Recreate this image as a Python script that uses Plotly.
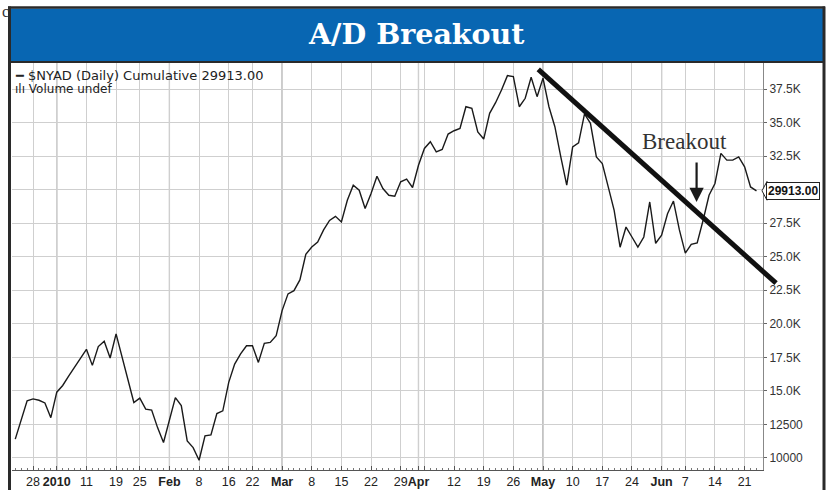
import pandas as pd
import plotly.graph_objects as go

# ---------------- data ----------------
holidays = ["2009-12-25", "2010-01-01", "2010-01-18", "2010-02-15", "2010-04-02", "2010-05-31"]
trading_days = [d for d in pd.bdate_range("2009-12-22", "2010-06-23").strftime("%Y-%m-%d") if d not in holidays]

nyad_values = [
    # Dec 22 - Dec 31
    11400, 12900, 14250, 14400, 14300, 14100, 13000,
    # Jan
    14900, 15400, 16100, 16800, 17450, 18100, 16900, 18300, 18700, 17450,
    19250, 17600, 15900, 14130, 14460, 13640, 13570, 12260, 11150,
    # Feb
    12800, 14500, 13900, 11270, 10770, 9830, 11640, 11720, 13310, 13510,
    15630, 17000, 17750, 18360, 18360, 17120, 18540, 18610, 19110,
    # Mar
    20980, 22230, 22470, 23270, 25170, 25720, 26090, 27000, 27700, 28010,
    27590, 29210, 30330, 29960, 28590, 29710, 31000, 30080, 29580, 29510,
    30580, 30780, 30160,
    # Apr
    31820, 33070, 33570, 32820, 33000, 34140, 34390, 34560, 36180, 36060,
    34310, 33770, 35690, 36480, 37430, 38500, 38430, 36180, 36810, 38380, 36930,
    # May
    38310, 36180, 34690, 32440, 30330, 33190, 33490, 35640, 34940, 32440,
    31950, 30200, 28460, 25710, 27210, 26470, 25710, 26470, 29080, 26000,
    # Jun
    26600, 28200, 29150, 27000, 25270, 25920, 26020, 27720, 29580, 30460,
    32700, 32200, 32200, 32440, 31700, 30200, 29913,
]

tick_dates = ["2009-12-28", "2010-01-04", "2010-01-11", "2010-01-19", "2010-01-25",
              "2010-02-01", "2010-02-08", "2010-02-16", "2010-02-22",
              "2010-03-01", "2010-03-08", "2010-03-15", "2010-03-22", "2010-03-29",
              "2010-04-01", "2010-04-05", "2010-04-12", "2010-04-19", "2010-04-26",
              "2010-05-03", "2010-05-10", "2010-05-17", "2010-05-24",
              "2010-06-01", "2010-06-07", "2010-06-14", "2010-06-21"]
tick_labels = ["28", "<b>2010</b>", "11", "19", "25",
               "<b>Feb</b>", "8", "16", "22",
               "<b>Mar</b>", "8", "15", "22", "29",
               "<b>Apr</b>", "", "12", "19", "26",
               "<b>May</b>", "10", "17", "24",
               "<b>Jun</b>", "7", "14", "21"]
month_dates = ["2010-01-04", "2010-02-01", "2010-03-01", "2010-04-01", "2010-05-03", "2010-06-01"]

y_tick_values = [10000, 12500, 15000, 17500, 20000, 22500, 25000, 27500, 30000, 32500, 35000, 37500]
# 30.0K sits under the last-value tag in the original
y_tick_labels = ["10000", "12500", "15.0K", "17.5K", "20.0K", "22.5K", "25.0K", "27.5K",
                 "", "32.5K", "35.0K", "37.5K"]

last_value = 29913.00
# trend line (drawn annotation): position in trading-day index / value
trend_x = [85.2, 125.3]
trend_y = [38970, 23025]
breakout_x = 111.9
breakout_y = 29080
breakout_text_x = 109.9
breakout_text_y = 33600

# ---------------- figure ----------------
origin = trading_days.index("2009-12-28")
xs = [i - origin for i in range(len(trading_days))]
tickvals = [trading_days.index(d) - origin for d in tick_dates]
monthvals = [trading_days.index(d) - origin for d in month_dates]

X_RANGE = [-3.55, 123.1]
Y_RANGE = [9100, 39440]

W, H = 832, 490
ML, MR, MT, MB = 12, 69, 63, 20
PW, PH = W - ML - MR, H - MT - MB


def px_x(p):
    return (p - ML) / PW


def px_y(p):
    return (H - MB - p) / PH


def data_to_paper_x(v):
    return (v - X_RANGE[0]) / (X_RANGE[1] - X_RANGE[0])


def data_to_paper_y(v):
    return (v - Y_RANGE[0]) / (Y_RANGE[1] - Y_RANGE[0])


fig = go.Figure()
fig.add_trace(go.Scatter(
    x=xs, y=nyad_values, mode="lines",
    line=dict(color="#1a1a1a", width=1.4),
    customdata=trading_days, hovertemplate="%{customdata}: %{y}<extra></extra>",
    showlegend=False,
))

shapes = []
# darker month separator gridlines
for mv in monthvals:
    shapes.append(dict(type="line", xref="x", yref="paper", x0=mv, x1=mv, y0=0, y1=1,
                       line=dict(color="#9a9a9a", width=1.2), layer="below"))
# trend line (not clipped: paper coords)
shapes.append(dict(type="line", xref="paper", yref="paper",
                   x0=data_to_paper_x(trend_x[0]), y0=data_to_paper_y(trend_y[0]),
                   x1=data_to_paper_x(trend_x[1]), y1=data_to_paper_y(trend_y[1]),
                   line=dict(color="#111111", width=5)))
# title bar
shapes.append(dict(type="rect", xref="paper", yref="paper",
                   x0=px_x(10), x1=px_x(823), y0=px_y(61.5), y1=px_y(8.5),
                   fillcolor="#0866B2", line=dict(width=0)))
shapes.append(dict(type="line", xref="paper", yref="paper",
                   x0=px_x(10), x1=px_x(823), y0=px_y(62), y1=px_y(62),
                   line=dict(color="#2a2a2a", width=2)))
shapes.append(dict(type="line", xref="paper", yref="paper",
                   x0=px_x(8), x1=px_x(825), y0=px_y(7.5), y1=px_y(7.5),
                   line=dict(color="#2a2a2a", width=2.5)))
# frame borders
shapes.append(dict(type="line", xref="paper", yref="paper",
                   x0=px_x(9.5), x1=px_x(9.5), y0=px_y(490), y1=px_y(6.5),
                   line=dict(color="#2a2a2a", width=3)))
shapes.append(dict(type="line", xref="paper", yref="paper",
                   x0=px_x(824), x1=px_x(824), y0=px_y(490), y1=px_y(6.5),
                   line=dict(color="#2a2a2a", width=3)))
# small notch of the last-value tag
shapes.append(dict(type="path", xref="paper", yref="y",
                   path="M %f,%f L %f,%f L %f,%f Z" % (
                       px_x(767), last_value + 700,
                       px_x(762), last_value,
                       px_x(767), last_value - 700),
                   fillcolor="white", line=dict(color="#222", width=1)))

annotations = [
    dict(text="<b>A/D Breakout</b>", xref="paper", yref="paper",
         x=px_x(416), y=px_y(34), xanchor="center", yanchor="middle", showarrow=False,
         font=dict(family="DejaVu Serif, Liberation Serif, serif", size=28.5, color="white")),
    dict(text="━ $NYAD (Daily) Cumulative 29913.00", xref="paper", yref="paper",
         x=px_x(13), y=px_y(75), xanchor="left", yanchor="middle", showarrow=False,
         font=dict(family="DejaVu Sans, sans-serif", size=13, color="#222")),
    dict(text="ılı Volume undef", xref="paper", yref="paper",
         x=px_x(13), y=px_y(89), xanchor="left", yanchor="middle", showarrow=False,
         font=dict(family="DejaVu Sans, sans-serif", size=12, color="#222")),
    dict(text="Breakout", xref="x", yref="y", x=breakout_text_x, y=breakout_text_y,
         xanchor="center", yanchor="middle", showarrow=False,
         font=dict(family="Liberation Serif, DejaVu Serif, serif", size=23, color="#333")),
    dict(text="", xref="x", yref="y", x=breakout_x, y=breakout_y, ax=0, ay=-41,
         showarrow=True, arrowhead=2, arrowsize=1.3, arrowwidth=2.2, arrowcolor="#1a1a1a"),
    dict(text="<b>%.2f</b>" % last_value, xref="paper", yref="y", x=px_x(766), y=last_value,
         xanchor="left", yanchor="middle", showarrow=False, bgcolor="white",
         bordercolor="#222", borderwidth=1, borderpad=1,
         font=dict(family="Liberation Sans, Arial, sans-serif", size=12, color="#111")),
    dict(text="c", xref="paper", yref="paper", x=px_x(0), y=px_y(12),
         xanchor="left", yanchor="middle", showarrow=False,
         font=dict(family="Liberation Serif, serif", size=16, color="#333")),
]

fig.update_layout(
    width=W, height=H,
    margin=dict(l=ML, r=MR, t=MT, b=MB, pad=0, autoexpand=False),
    paper_bgcolor="white", plot_bgcolor="white",
    shapes=shapes, annotations=annotations,
    xaxis=dict(range=X_RANGE, tickmode="array", tickvals=tickvals, ticktext=tick_labels,
               tickangle=0, automargin=False,
               showgrid=True, gridcolor="#cfcfcf", gridwidth=1,
               ticks="inside", ticklen=4, tickcolor="#555",
               showline=True, linecolor="#555", linewidth=1, mirror=False,
               zeroline=False,
               minor=dict(tickmode="linear", tick0=0, dtick=1, ticks="inside", ticklen=2,
                          tickcolor="#777", showgrid=False),
               tickfont=dict(family="Liberation Sans, Arial, sans-serif", size=12.5, color="#222")),
    yaxis=dict(range=Y_RANGE, side="right", tickmode="array", tickvals=y_tick_values,
               ticktext=y_tick_labels, automargin=False,
               showgrid=True, gridcolor="#cfcfcf", gridwidth=1,
               ticks="outside", ticklen=3, tickcolor="#666",
               showline=True, linecolor="#888", linewidth=1, zeroline=False,
               tickfont=dict(family="Liberation Sans, Arial, sans-serif", size=12, color="#333")),
)

fig.write_html("out.html", config={"displayModeBar": False},
               post_script="document.body.style.margin='0px';")
